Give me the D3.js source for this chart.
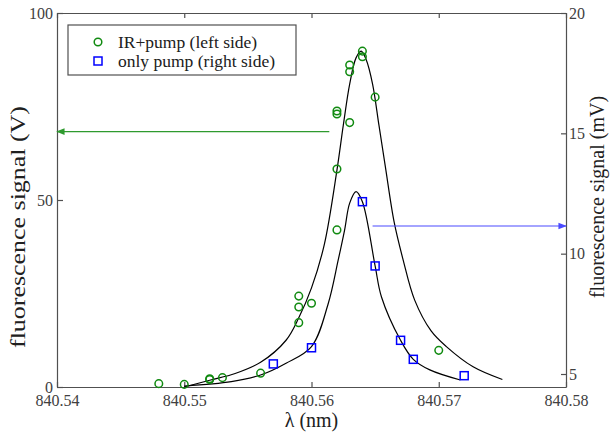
<!DOCTYPE html>
<html lang="en">
<head>
<meta charset="UTF-8">
<title>fluorescence</title>
<style>
  body { margin: 0; background: #fff; }
</style>
</head>
<body>
<div id="chart" style="width: 610px;height: 432px;"></div>
<script src="https://cdn.jsdelivr.net/npm/d3@7/dist/d3.min.js"></script>
<script>
    // axes
    var xTicks = [840.54, 840.55, 840.56, 840.57, 840.58];
    var leftTicks = [0, 50, 100];
    var rightTicks = [5, 10, 15, 20];

    // IR+pump, left axis (V)
    var irLambda = [840.548, 840.550, 840.552, 840.552, 840.553, 840.556, 840.559, 840.559, 840.559, 840.560,
                    840.562, 840.562, 840.562, 840.562, 840.563, 840.563, 840.563, 840.564, 840.564, 840.565, 840.570];
    var irSignal = [0.9, 0.7, 2.2, 2.0, 2.5, 3.7, 24.3, 21.4, 17.2, 22.4,
                    73.8, 73.0, 58.3, 42.0, 86.1, 84.3, 70.7, 89.8, 88.3, 77.5, 9.8];

    // only pump, right axis (mV)
    var pumpLambda = [840.557, 840.560, 840.564, 840.565, 840.567, 840.568, 840.572];
    var pumpSignal = [5.42, 6.09, 12.16, 9.49, 6.40, 5.61, 4.93];

    // fitted curves
    var fitIrLambda = [840.5500, 840.5520, 840.5540, 840.5560, 840.5580, 840.5590, 840.5600, 840.5610, 840.5620,
                       840.5625, 840.5630, 840.5635, 840.5639, 840.5643, 840.5648, 840.5653, 840.5658, 840.5665,
                       840.5672, 840.5681, 840.5694, 840.5706, 840.5727, 840.5750];
    var fitIrSignal = [0, 1.8, 3.6, 6.6, 12.5, 18.5, 26.5, 38, 58,
                       70, 81, 88, 89.8, 87.5, 81, 70, 59, 44,
                       34, 23.3, 15, 10.8, 5.4, 2.0];

    var fitPumpLambda = [840.5500, 840.5537, 840.5560, 840.5580, 840.5600, 840.5613, 840.5621, 840.5626, 840.5630,
                         840.5635, 840.5640, 840.5650, 840.5655, 840.5670, 840.5680, 840.5693, 840.5717];
    var fitPumpSignal = [4.50, 4.68, 4.96, 5.45, 6.14, 7.9, 9.74, 10.98, 12.1,
                         12.58, 12.16, 9.49, 8.2, 6.40, 5.61, 5.17, 4.75];

    // arrows: [lambda from, lambda to, value]
    var irArrow = [840.5614, 840.54, 68.3];
    var pumpArrow = [840.5648, 840.58, 11.15];

    var width = 610, height = 432;
    var margin = {left: 57, right: 44, top: 13, bottom: 45};
    var serif = "Liberation Serif";

    var svg = d3.select("#chart").append("svg")
        .attr("width", width)
        .attr("height", height);

    var x = d3.scaleLinear()
        .domain([840.54, 840.58])
        .range([margin.left, width - margin.right]);
    var yL = d3.scaleLinear()
        .domain([0, 100])
        .range([height - margin.bottom, margin.top]);
    var yR = d3.scaleLinear()
        .domain([4.46, 20])
        .range([height - margin.bottom, margin.top]);

    var axisColor = "#505050", textColor = "#404040";

    var gAxis = svg.append("g");
    gAxis.append("g")
        .attr("transform", "translate(0," + (height - margin.bottom) + ")")
        .call(d3.axisBottom(x).tickValues(xTicks).tickFormat(d3.format(".2f")).tickSize(-5).tickSizeOuter(0).tickPadding(8));
    gAxis.append("g")
        .attr("transform", "translate(0," + margin.top + ")")
        .call(d3.axisTop(x).tickValues(xTicks).tickFormat("").tickSize(-5).tickSizeOuter(0));
    gAxis.append("g")
        .attr("transform", "translate(" + margin.left + ",0)")
        .call(d3.axisLeft(yL).tickValues(leftTicks).tickSize(-6).tickSizeOuter(0).tickPadding(4));
    gAxis.append("g")
        .attr("transform", "translate(" + (width - margin.right) + ",0)")
        .call(d3.axisRight(yR).tickValues(rightTicks).tickSize(-5).tickSizeOuter(0).tickPadding(3));

    gAxis.selectAll("path, line").attr("stroke", axisColor).attr("stroke-width", 1.2);
    gAxis.selectAll("text")
        .style("font-family", serif)
        .style("font-size", "16px")
        .attr("fill", textColor);

    // titles
    svg.append("text")
        .attr("x", (margin.left + width - margin.right) / 2)
        .attr("y", 427)
        .attr("text-anchor", "middle")
        .style("font-family", serif)
        .style("font-size", "20px")
        .attr("fill", "#202020")
        .text("λ (nm)");
    svg.append("text")
        .attr("transform", "translate(25,227) rotate(-90)")
        .attr("text-anchor", "middle")
        .style("font-family", serif)
        .style("font-size", "20px")
        .attr("textLength", 242)
        .attr("lengthAdjust", "spacingAndGlyphs")
        .attr("fill", "#202020")
        .text("fluorescence signal (V)");
    svg.append("text")
        .attr("transform", "translate(604,197) rotate(-90)")
        .attr("text-anchor", "middle")
        .style("font-family", serif)
        .style("font-size", "20px")
        .attr("fill", "#202020")
        .text("fluorescence signal (mV)");

    // fits
    var lineL = d3.line()
        .x(function(d){ return x(d[0]); })
        .y(function(d){ return yL(d[1]); })
        .curve(d3.curveCatmullRom.alpha(0.5));
    var lineR = d3.line()
        .x(function(d){ return x(d[0]); })
        .y(function(d){ return yR(d[1]); })
        .curve(d3.curveCatmullRom.alpha(0.5));

    svg.append("path")
        .datum(d3.zip(fitIrLambda, fitIrSignal))
        .attr("d", lineL)
        .attr("fill", "none")
        .attr("stroke", "#000")
        .attr("stroke-width", 1.2);
    svg.append("path")
        .datum(d3.zip(fitPumpLambda, fitPumpSignal))
        .attr("d", lineR)
        .attr("fill", "none")
        .attr("stroke", "#000")
        .attr("stroke-width", 1.2);

    // arrows
    var defs = svg.append("defs");
    function marker(id, color) {
        defs.append("marker")
            .attr("id", id)
            .attr("viewBox", "0 0 10 10")
            .attr("refX", 9).attr("refY", 5)
            .attr("markerWidth", 7).attr("markerHeight", 7)
            .attr("orient", "auto")
            .append("path")
            .attr("d", "M0,1L10,5L0,9Z")
            .attr("fill", color);
    }
    marker("arrowG", "#2e9a2e");
    marker("arrowB", "#4a4aff");

    svg.append("line")
        .attr("x1", x(irArrow[0])).attr("x2", x(irArrow[1]))
        .attr("y1", yL(irArrow[2])).attr("y2", yL(irArrow[2]))
        .attr("stroke", "#2e9a2e").attr("stroke-width", 1.2)
        .attr("marker-end", "url(#arrowG)");
    svg.append("line")
        .attr("x1", x(pumpArrow[0])).attr("x2", x(pumpArrow[1]))
        .attr("y1", yR(pumpArrow[2])).attr("y2", yR(pumpArrow[2]))
        .attr("stroke", "#4a4aff").attr("stroke-width", 1.2)
        .attr("marker-end", "url(#arrowB)");

    // points
    svg.append("g").selectAll("circle")
        .data(d3.zip(irLambda, irSignal))
        .enter()
        .append("circle")
        .attr("cx", function(d){ return x(d[0]); })
        .attr("cy", function(d){ return yL(d[1]); })
        .attr("r", 3.8)
        .attr("fill", "none")
        .attr("stroke", "#108a10")
        .attr("stroke-width", 1.5);

    var sq = 8;
    svg.append("g").selectAll("rect")
        .data(d3.zip(pumpLambda, pumpSignal))
        .enter()
        .append("rect")
        .attr("x", function(d){ return x(d[0]) - sq / 2; })
        .attr("y", function(d){ return yR(d[1]) - sq / 2; })
        .attr("width", sq).attr("height", sq)
        .attr("fill", "none")
        .attr("stroke", "#0000ff")
        .attr("stroke-width", 1.5);

    // legend
    var legend = svg.append("g").attr("transform", "translate(68,25)");
    legend.append("rect")
        .attr("width", 228).attr("height", 50)
        .attr("fill", "#fff")
        .attr("stroke", axisColor).attr("stroke-width", 1.2);
    legend.append("circle")
        .attr("cx", 30).attr("cy", 17).attr("r", 3.8)
        .attr("fill", "none").attr("stroke", "#108a10").attr("stroke-width", 1.5);
    legend.append("rect")
        .attr("x", 30 - sq / 2).attr("y", 36 - sq / 2).attr("width", sq).attr("height", sq)
        .attr("fill", "none").attr("stroke", "#0000ff").attr("stroke-width", 1.5);
    legend.append("text")
        .attr("x", 50).attr("y", 23)
        .style("font-family", serif)
        .style("font-size", "17.5px").attr("fill", "#202020")
        .text("IR+pump (left side)");
    legend.append("text")
        .attr("x", 50).attr("y", 42)
        .style("font-family", serif)
        .style("font-size", "17.5px").attr("fill", "#202020")
        .text("only pump (right side)");
</script>
</body>
</html>
